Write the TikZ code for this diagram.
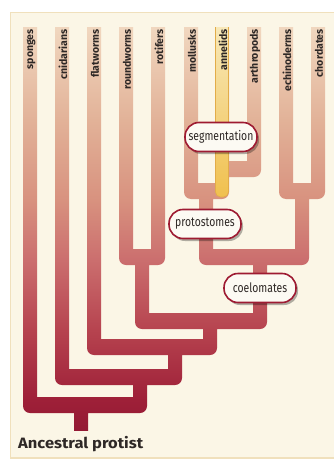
\documentclass[tikz,border=0pt]{standalone}
\usepackage{fontspec}
\setmainfont{Fira Sans}
\newfontfamily\labfont{Fira Sans}
\newfontfamily\boxfont[FakeStretch=0.8]{Fira Sans}
\newfontfamily\rootfont[FakeStretch=1.1]{Fira Sans}
\usetikzlibrary{shadows}
\definecolor{panel}{HTML}{FBF6E6}
\definecolor{paneledge}{HTML}{F0E0BC}
\definecolor{tc0}{HTML}{921833}
\definecolor{tc1}{HTML}{9E2038}
\definecolor{tc2}{HTML}{B6434F}
\definecolor{tc3}{HTML}{CB6E6E}
\definecolor{tc4}{HTML}{D8927F}
\definecolor{tc5}{HTML}{E2B298}
\definecolor{tc6}{HTML}{F0D6BE}
\definecolor{tagred}{HTML}{9E1B32}
\definecolor{tagfill}{HTML}{FCFAF3}
\definecolor{txt}{HTML}{2E2826}
\definecolor{ylwtop}{HTML}{F8EABD}
\definecolor{ylwbot}{HTML}{F0C04E}
\definecolor{ylwedge}{HTML}{E2AC48}
\pgfdeclareverticalshading{treeshade}{100bp}{color(0bp)=(tc0); color(25bp)=(tc0); color(29.3bp)=(tc1); color(37.8bp)=(tc2); color(46.3bp)=(tc3); color(53.7bp)=(tc4); color(63.4bp)=(tc5); color(74.4bp)=(tc6); color(100bp)=(tc6)}
\newcommand\vseg[2]{([xshift=-7pt]#1) rectangle ([xshift=7pt,yshift=-8pt]#2)}
\newcommand\hseg[2]{([xshift=-7pt,yshift=8pt]#1) rectangle ([xshift=7pt,yshift=-8pt]#2)}
\tikzset{
  leaf/.style={rotate=90, anchor=east, inner sep=0pt, text=txt,
    font=\labfont\bfseries\fontsize{10.5}{11}\selectfont},
  tag/.style={draw=tagred, line width=1.6pt, fill=tagfill, rounded corners=14pt,
    minimum width=72pt, minimum height=29pt, inner sep=2pt, text=txt,
    font=\boxfont\fontsize{13}{14}\selectfont,
    drop shadow={shadow xshift=2pt, shadow yshift=-2.5pt, fill=black, opacity=0.3}},
  rootlabel/.style={anchor=base west, inner sep=0pt, text=txt,
    font=\rootfont\bfseries\fontsize{15}{16}\selectfont}
}
\begin{document}
\begin{tikzpicture}[x=1pt,y=-1pt]
\useasboundingbox (0,0) rectangle (333,460);
\fill[white] (0,0) rectangle (333,460);
\fill[panel, draw=paneledge, line width=1.5pt] (10.5,12.5) rectangle (337,458);
% leaf tops
\coordinate (sp) at (30,20);  \coordinate (cn) at (62,20);
\coordinate (fl) at (94,20);  \coordinate (rw) at (126,20);
\coordinate (ro) at (158,20); \coordinate (mo) at (191,20);
\coordinate (an) at (222,20); \coordinate (ar) at (254,20);
\coordinate (ec) at (286,20); \coordinate (ch) at (318,20);
% junctions
\coordinate (jAAL) at (222,169); \coordinate (jAAR) at (254,169);
\coordinate (jMoL) at (191,191); \coordinate (jMoR) at (222,191); \coordinate (mos) at (206,191);
\coordinate (jDeL) at (286,191); \coordinate (jDeR) at (318,191); \coordinate (des) at (302,191);
\coordinate (jCoL) at (206,257); \coordinate (jCoR) at (302,257); \coordinate (cos) at (260,257);
\coordinate (jRRL) at (126,257); \coordinate (jRRR) at (158,257); \coordinate (rrs) at (142,257);
\coordinate (j4L) at (142,321); \coordinate (j4R) at (260,321); \coordinate (j4s) at (210,321);
\coordinate (j3L) at (94,347);  \coordinate (j3R) at (210,347); \coordinate (j3s) at (175,347);
\coordinate (j2L) at (62,377);  \coordinate (j2R) at (175,377); \coordinate (j2s) at (140,377);
\coordinate (j1L) at (30,405);  \coordinate (j1R) at (140,405); \coordinate (j1s) at (81,405);
\coordinate (root) at (81,440);
% tree
\begin{scope}
\clip (0,28) rectangle (333,430);
\begin{scope}
\clip[rounded corners=7pt]
  \vseg{sp}{j1L} \vseg{cn}{j2L} \vseg{fl}{j3L} \vseg{rw}{jRRL} \vseg{ro}{jRRR}
  \vseg{mo}{jMoL} \vseg{an}{jMoR} \vseg{ar}{jAAR} \vseg{ec}{jDeL} \vseg{ch}{jDeR}
  \hseg{jAAL}{jAAR} \hseg{jMoL}{jMoR} \hseg{jDeL}{jDeR} \hseg{jCoL}{jCoR}
  \hseg{jRRL}{jRRR} \hseg{j4L}{j4R} \hseg{j3L}{j3R} \hseg{j2L}{j2R} \hseg{j1L}{j1R}
  \vseg{mos}{jCoL} \vseg{des}{jCoR} \vseg{cos}{j4R} \vseg{rrs}{j4L}
  \vseg{j4s}{j3R} \vseg{j3s}{j2R} \vseg{j2s}{j1R} \vseg{j1s}{root};
\shade[shading=treeshade] (0,25) rectangle (333,435);
\end{scope}
\shade[top color=ylwtop, bottom color=ylwbot, draw=ylwedge, line width=0.6pt, rounded corners=5pt]
  (215.5,20) rectangle (228.5,197);
\end{scope}
% leaf labels
\node[leaf] (lsp) at (31,29) {sponges};
\node[leaf] (lcn) at (63,29) {cnidarians};
\node[leaf] (lfl) at (95,29) {flatworms};
\node[leaf] (lrw) at (127,29) {roundworms};
\node[leaf] (lro) at (159,29) {rotifers};
\node[leaf] (lmo) at (192,29) {mollusks};
\node[leaf] (lan) at (223,29) {annelids};
\node[leaf] (lar) at (255,29) {arthropods};
\node[leaf] (lec) at (287,29) {echinoderms};
\node[leaf] (lch) at (319,29) {chordates};
% clade labels
\node[tag] (seg) at (221,137) {segmentation};
\node[tag] (pro) at (205,224) {protostomes};
\node[tag] (coe) at (260,288) {coelomates};
% root label
\node[rootlabel] (anc) at (18,448) {Ancestral protist};
\end{tikzpicture}
\end{document}
